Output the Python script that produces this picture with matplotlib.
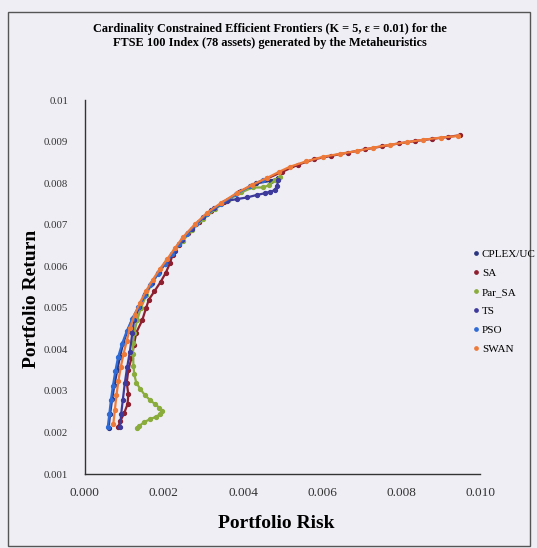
import matplotlib
matplotlib.use("Agg")
import matplotlib.pyplot as plt
from matplotlib.lines import Line2D
from matplotlib.patches import Rectangle

# risk (x) / return (y) values
cplex_x = [0.00060, 0.00064, 0.00069, 0.00075, 0.00082, 0.00089, 0.00097, 0.00108, 0.00121, 0.00136,
           0.00151, 0.00167, 0.00185, 0.00203, 0.00221, 0.00239, 0.00261, 0.00289, 0.00320, 0.00363,
           0.00396, 0.00434, 0.00470, 0.00489]
cplex_y = [0.00210, 0.00245, 0.00280, 0.00315, 0.00350, 0.00383, 0.00415, 0.00445, 0.00475, 0.00502,
           0.00530, 0.00557, 0.00583, 0.00606, 0.00630, 0.00655, 0.00680, 0.00708, 0.00735, 0.00760,
           0.00781, 0.00800, 0.00806, 0.00812]

sa_x = [0.00084, 0.00090, 0.00100, 0.00108, 0.00110, 0.00106, 0.00110, 0.00118, 0.00124, 0.00130,
        0.00145, 0.00155, 0.00162, 0.00176, 0.00192, 0.00205, 0.00215, 0.00222, 0.00238, 0.00262,
        0.00290, 0.00320, 0.00352, 0.00390, 0.00425, 0.00462, 0.00500, 0.00540, 0.00580, 0.00622,
        0.00666, 0.00710, 0.00752, 0.00794, 0.00836, 0.00878, 0.00920, 0.00950]
sa_y = [0.00213, 0.00228, 0.00248, 0.00268, 0.00292, 0.00320, 0.00350, 0.00380, 0.00410, 0.00440,
        0.00470, 0.00500, 0.00520, 0.00540, 0.00563, 0.00585, 0.00607, 0.00628, 0.00652, 0.00680,
        0.00708, 0.00734, 0.00756, 0.00778, 0.00796, 0.00812, 0.00828, 0.00845, 0.00858, 0.00866,
        0.00874, 0.00882, 0.00889, 0.00896, 0.00902, 0.00907, 0.00912, 0.00916]

par_sa_x = [0.00132, 0.00138, 0.00150, 0.00165, 0.00180, 0.00190, 0.00195, 0.00188, 0.00178, 0.00165,
            0.00152, 0.00140, 0.00130, 0.00125, 0.00123, 0.00122, 0.00122, 0.00125, 0.00132, 0.00142,
            0.00155, 0.00170, 0.00187, 0.00205, 0.00225, 0.00248, 0.00272, 0.00300, 0.00330, 0.00362,
            0.00395, 0.00425, 0.00450, 0.00465, 0.00481, 0.00494]
par_sa_y = [0.00210, 0.00216, 0.00225, 0.00232, 0.00238, 0.00244, 0.00252, 0.00260, 0.00268, 0.00278,
            0.00290, 0.00305, 0.00320, 0.00340, 0.00360, 0.00390, 0.00415, 0.00440, 0.00470, 0.00500,
            0.00530, 0.00560, 0.00585, 0.00610, 0.00636, 0.00662, 0.00688, 0.00714, 0.00738, 0.00760,
            0.00778, 0.00790, 0.00790, 0.00795, 0.00807, 0.00815]

ts_x = [0.00089, 0.00092, 0.00096, 0.00101, 0.00107, 0.00114, 0.00120, 0.00125, 0.00138, 0.00153,
        0.00170, 0.00188, 0.00207, 0.00227, 0.00246, 0.00270, 0.00300, 0.00328, 0.00360, 0.00385,
        0.00410, 0.00435, 0.00455, 0.00468, 0.00480, 0.00486, 0.00489]
ts_y = [0.00213, 0.00245, 0.00278, 0.00318, 0.00357, 0.00395, 0.00439, 0.00472, 0.00503, 0.00533,
        0.00561, 0.00587, 0.00612, 0.00638, 0.00663, 0.00690, 0.00718, 0.00740, 0.00758, 0.00762,
        0.00766, 0.00772, 0.00776, 0.00780, 0.00783, 0.00793, 0.00807]

pso_x = [0.00058, 0.00062, 0.00066, 0.00071, 0.00077, 0.00084, 0.00094, 0.00106, 0.00120, 0.00135,
         0.00150, 0.00166, 0.00184, 0.00202, 0.00220, 0.00238, 0.00258, 0.00282, 0.00310, 0.00345,
         0.00383, 0.00418, 0.00450]
pso_y = [0.00213, 0.00245, 0.00278, 0.00312, 0.00347, 0.00381, 0.00413, 0.00444, 0.00474, 0.00501,
         0.00528, 0.00555, 0.00581, 0.00605, 0.00629, 0.00653, 0.00677, 0.00702, 0.00727, 0.00751,
         0.00774, 0.00793, 0.00808]

swan_x = [0.00072, 0.00076, 0.00080, 0.00085, 0.00091, 0.00098, 0.00106, 0.00114, 0.00126, 0.00139,
          0.00155, 0.00172, 0.00190, 0.00208, 0.00228, 0.00248, 0.00278, 0.00309, 0.00345, 0.00385,
          0.00422, 0.00461, 0.00490, 0.00519, 0.00560, 0.00603, 0.00645, 0.00689, 0.00730, 0.00772,
          0.00814, 0.00856, 0.00900, 0.00944]
swan_y = [0.00220, 0.00255, 0.00290, 0.00325, 0.00358, 0.00390, 0.00420, 0.00452, 0.00484, 0.00512,
          0.00541, 0.00568, 0.00594, 0.00617, 0.00644, 0.00670, 0.00701, 0.00729, 0.00753, 0.00777,
          0.00796, 0.00813, 0.00827, 0.00840, 0.00853, 0.00864, 0.00871, 0.00878, 0.00886, 0.00893,
          0.00899, 0.00905, 0.00910, 0.00914]

names = ["CPLEX/UC", "SA", "Par_SA", "TS", "PSO", "SWAN"]
colors = ["#2a3580", "#8e1f2f", "#8aac3c", "#3d3a9c", "#2f6bd6", "#ee7a3a"]
series = [(cplex_x, cplex_y), (sa_x, sa_y), (par_sa_x, par_sa_y),
          (ts_x, ts_y), (pso_x, pso_y), (swan_x, swan_y)]

x_ticks = [0.000, 0.002, 0.004, 0.006, 0.008, 0.010]
y_ticks = [0.001, 0.002, 0.003, 0.004, 0.005, 0.006, 0.007, 0.008, 0.009, 0.01]
y_labels = ["0.001", "0.002", "0.003", "0.004", "0.005", "0.006", "0.007", "0.008", "0.009", "0.01"]

bg = "#eeeef4"
serif = ["Liberation Serif", "DejaVu Serif"]

fig = plt.figure(figsize=(5.37, 5.48), dpi=100, facecolor=bg)
ax = fig.add_axes([0.158, 0.135, 0.736, 0.682])
ax.set_facecolor(bg)

for (xs, ys), c in zip(series, colors):
    ax.plot(xs, ys, "-o", color=c, lw=1.6, ms=2.8, mec=c)

ax.set_xlim(0, 0.010)
ax.set_ylim(0.001, 0.01)
ax.set_xticks(x_ticks)
ax.set_xticklabels(["%.3f" % v for v in x_ticks], fontfamily=serif, fontsize=9.5, color="#333333")
ax.set_yticks(y_ticks)
ax.set_yticklabels(y_labels, fontfamily=serif, fontsize=7.8, color="#333333")
ax.tick_params(axis="x", length=0, pad=9)
ax.tick_params(axis="y", length=0, pad=12)
for s in ["top", "right"]:
    ax.spines[s].set_visible(False)
for s in ["left", "bottom"]:
    ax.spines[s].set_color("#333333")
    ax.spines[s].set_linewidth(1.0)

ax.set_xlabel("Portfolio Risk", fontfamily=serif, fontsize=14, fontweight="bold")
ax.xaxis.set_label_coords(0.484, -0.110)
ax.set_ylabel("Portfolio Return", fontfamily=serif, fontsize=14, fontweight="bold")
ax.yaxis.set_label_coords(-0.114, 0.468)

fig.text(0.503, 0.935, "Cardinality Constrained Efficient Frontiers (K = 5, \u03b5 = 0.01) for the\n"
         "FTSE 100 Index (78 assets) generated by the Metaheuristics",
         ha="center", va="center", fontfamily=serif, fontsize=8.8, fontweight="bold",
         linespacing=1.2)

handles = [Line2D([], [], ls="", marker="o", ms=2.4, color=c) for c in colors]
fig.legend(handles, names, loc="upper left", bbox_to_anchor=(0.883, 0.5456),
           frameon=False, handlelength=0.4, handletextpad=0.3, labelspacing=0.84,
           borderaxespad=0, borderpad=0, prop={"family": serif, "size": 8})

fig.patches.append(Rectangle((0.015, 0.004), 0.972, 0.974, transform=fig.transFigure,
                             fill=False, ec="#555555", lw=1.0))

fig.savefig("out.png", dpi=100, facecolor=bg)
